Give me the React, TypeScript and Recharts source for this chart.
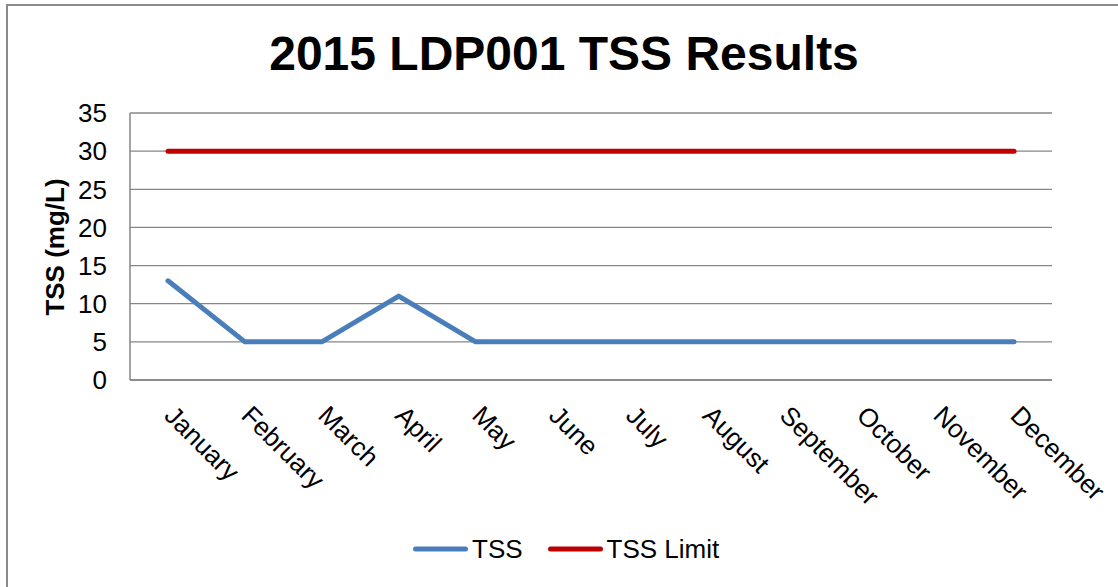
import React from 'react';
import { LineChart, Line, XAxis, YAxis, CartesianGrid, Legend } from 'recharts';

const months = ['January', 'February', 'March', 'April', 'May', 'June', 'July', 'August', 'September', 'October', 'November', 'December'];
const tssValues = [13, 5, 5, 11, 5, 5, 5, 5, 5, 5, 5, 5];
const tssLimitValues = [30, 30, 30, 30, 30, 30, 30, 30, 30, 30, 30, 30];
const yTicks = [0, 5, 10, 15, 20, 25, 30, 35];

const data = months.map((m, i) => ({ month: m, tss: tssValues[i], limit: tssLimitValues[i] }));

const FONT = '"Liberation Sans", Arial, Helvetica, sans-serif';
const GRID = '#868686';
const BLUE = '#4A7EBB';
const RED = '#C00000';

const XTick = (props: any) => {
  const { x, y, payload } = props;
  return (
    <g transform={`translate(${x},${y})`}>
      <text
        x={0}
        y={0}
        transform="translate(-5,37) rotate(45)"
        textAnchor="start"
        fontFamily={FONT}
        fontSize={26}
        fill="#000"
      >
        {payload.value}
      </text>
    </g>
  );
};

const LegendContent = () => {
  const items = [
    { label: 'TSS', color: BLUE, gapAfter: 22 },
    { label: 'TSS Limit', color: RED, gapAfter: 0 },
  ];
  return (
    <div style={{ display: 'flex', alignItems: 'center', height: 30, paddingLeft: 410 }}>
      {items.map((it) => (
        <div key={it.label} style={{ display: 'flex', alignItems: 'center', marginRight: it.gapAfter }}>
          <svg width={58} height={10} style={{ display: 'block' }}>
            <line x1={5.5} x2={55.5} y1={5} y2={5} stroke={it.color} strokeWidth={5} strokeLinecap="round" />
          </svg>
          <span style={{ marginLeft: 4, fontFamily: FONT, fontSize: 26, lineHeight: '30px', color: '#000', whiteSpace: 'nowrap' }}>
            {it.label}
          </span>
        </div>
      ))}
    </div>
  );
};

export default function App() {
  return (
    <div style={{ position: 'absolute', left: 0, top: 0, width: 1118, height: 587, overflow: 'hidden', background: '#fff' }}>
      <div
        style={{
          position: 'absolute',
          left: 6,
          top: 4,
          width: 1200,
          height: 700,
          border: '2px solid #8a8a8a',
          boxSizing: 'border-box',
        }}
      />
      <svg width={1118} height={587} style={{ position: 'absolute', left: 0, top: 0, pointerEvents: 'none' }}>
        <text x={564} y={70} textAnchor="middle" fontFamily={FONT} fontWeight="bold" fontSize={48} fill="#000">
          2015 LDP001 TSS Results
        </text>
        <text
          x={0}
          y={0}
          transform="translate(64,247) rotate(-90)"
          textAnchor="middle"
          fontFamily={FONT}
          fontWeight="bold"
          fontSize={26}
          fill="#000"
        >
          TSS (mg/L)
        </text>
      </svg>
      <div style={{ position: 'absolute', left: 0, top: 0 }}>
        <LineChart width={1118} height={587} data={data} margin={{ top: 113, right: 66, bottom: 57, left: 0 }}>
          <CartesianGrid vertical={false} stroke={GRID} strokeWidth={1.3} />
          <XAxis
            dataKey="month"
            scale="point"
            padding={{ left: 38, right: 38 }}
            height={150}
            interval={0}
            tickLine={false}
            tickSize={0}
            tickMargin={0}
            axisLine={{ stroke: GRID, strokeWidth: 1.5 }}
            tick={<XTick />}
          />
          <YAxis
            width={130}
            domain={[0, 35]}
            ticks={yTicks}
            interval={0}
            tickLine={false}
            tickSize={0}
            tickMargin={23}
            axisLine={{ stroke: GRID, strokeWidth: 1.5 }}
            tick={{ fontFamily: FONT, fontSize: 26, fill: '#000' }}
          />
          <Legend
            layout="horizontal"
            verticalAlign="middle"
            align="center"
            wrapperStyle={{ top: 534, left: 0, width: 1118 }}
            content={<LegendContent />}
          />
          <Line
            type="linear"
            dataKey="tss"
            name="TSS"
            stroke={BLUE}
            strokeWidth={5}
            strokeLinecap="round"
            strokeLinejoin="round"
            dot={false}
            activeDot={false}
            isAnimationActive={false}
          />
          <Line
            type="linear"
            dataKey="limit"
            name="TSS Limit"
            stroke={RED}
            strokeWidth={5}
            strokeLinecap="round"
            strokeLinejoin="round"
            dot={false}
            activeDot={false}
            isAnimationActive={false}
          />
        </LineChart>
      </div>
    </div>
  );
}
